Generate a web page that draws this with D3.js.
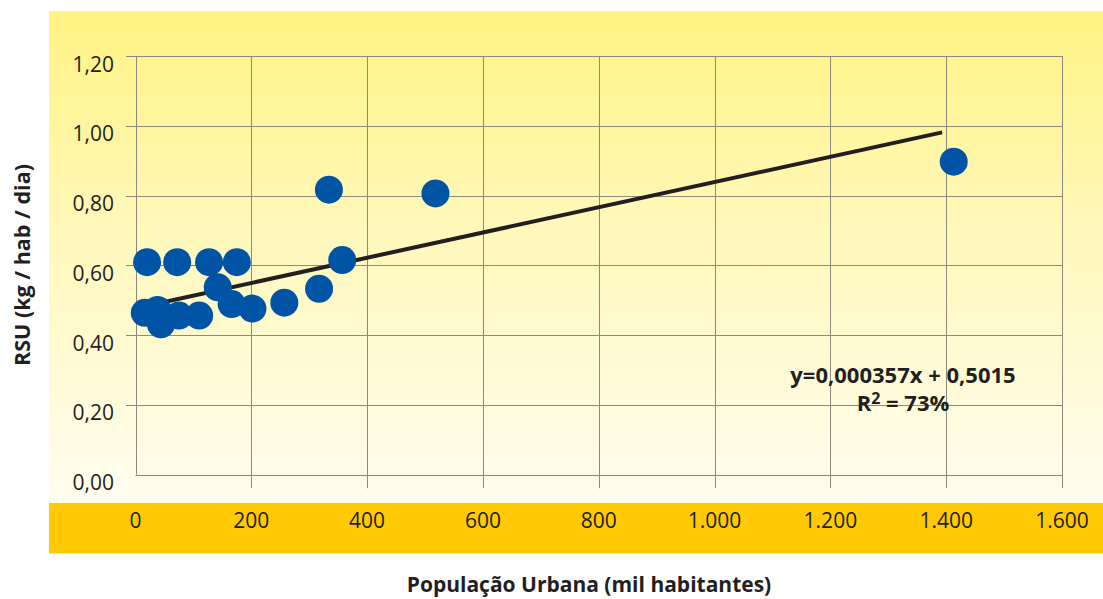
<!DOCTYPE html>
<html>
<head>
<meta charset="utf-8">
<script src="https://cdn.jsdelivr.net/npm/d3@7/dist/d3.min.js"></script>
<style>
html,body{margin:0;padding:0;background:#fff;}
svg{display:block;}
text{font-family:"Open Sans","Noto Sans",sans-serif;fill:#231f20;}
</style>
</head>
<body>
<svg id="chart" width="1103" height="599"></svg>
<script>
// Data
const popUrbana = [20, 72, 127, 175, 357, 142, 166, 202, 257, 317, 16, 38, 75, 110, 44, 334, 518, 1413];
const rsu       = [0.609, 0.609, 0.609, 0.609, 0.615, 0.537, 0.489, 0.476, 0.493, 0.533, 0.464, 0.472, 0.456, 0.456, 0.431, 0.817, 0.806, 0.897];
const trendX = [30, 1393];
const trendY = [0.488, 0.981];
const xTicks = [0, 200, 400, 600, 800, 1000, 1200, 1400, 1600];
const xTickLabels = ["0", "200", "400", "600", "800", "1.000", "1.200", "1.400", "1.600"];
const yTicks = [0, 0.2, 0.4, 0.6, 0.8, 1.0, 1.2];
const yTickLabels = ["0,00", "0,20", "0,40", "0,60", "0,80", "1,00", "1,20"];
const equationLine1 = "y=0,000357x + 0,5015";
const xTitle = "População Urbana (mil habitantes)";
const yTitle = "RSU (kg / hab / dia)";

const svg = d3.select("#chart");
const x = d3.scaleLinear().domain([0, 1600]).range([135.5, 1062]);
const y = d3.scaleLinear().domain([0, 1.2]).range([474.7, 56]);

// Background gradient panel
const defs = svg.append("defs");
const grad = defs.append("linearGradient").attr("id", "bg").attr("x1", 0).attr("y1", 0).attr("x2", 0).attr("y2", 1);
grad.append("stop").attr("offset", "0%").attr("stop-color", "#fff383");
grad.append("stop").attr("offset", "45%").attr("stop-color", "#fff8bb");
grad.append("stop").attr("offset", "100%").attr("stop-color", "#fffdf0");
svg.append("rect").attr("x", 49).attr("y", 11).attr("width", 1103 - 49).attr("height", 493).attr("fill", "url(#bg)");
svg.append("rect").attr("x", 49).attr("y", 503).attr("width", 1103 - 49).attr("height", 50.5).attr("fill", "#ffca05");

// Grid
const grid = svg.append("g").attr("stroke", "#8c8a7c").attr("stroke-width", 1).attr("fill", "none");
grid.selectAll("line.h").data(yTicks).join("line")
  .attr("class", "h")
  .attr("x1", d => d === 0 ? x(0) : x(0) - 9.5)
  .attr("x2", x(1600))
  .attr("y1", d => Math.round(y(d)) + 0.5)
  .attr("y2", d => Math.round(y(d)) + 0.5);
grid.selectAll("line.v").data(xTicks).join("line")
  .attr("class", "v")
  .attr("x1", d => Math.round(x(d)) + 0.5)
  .attr("x2", d => Math.round(x(d)) + 0.5)
  .attr("y1", y(1.2))
  .attr("y2", d => d === 0 ? y(0) : y(0) + 13.5);

// Y tick labels
svg.append("g").selectAll("text").data(yTicks).join("text")
  .attr("x", 114)
  .attr("y", d => y(d) + 15.5)
  .attr("text-anchor", "end")
  .attr("font-size", 21)
  .text((d, i) => yTickLabels[i]);

// X tick labels
svg.append("g").selectAll("text").data(xTicks).join("text")
  .attr("x", d => x(d))
  .attr("y", 527.5)
  .attr("text-anchor", "middle")
  .attr("font-size", 21)
  .text((d, i) => xTickLabels[i]);

// Trend line
svg.append("line")
  .attr("x1", x(trendX[0])).attr("y1", y(trendY[0]))
  .attr("x2", x(trendX[1])).attr("y2", y(trendY[1]))
  .attr("stroke", "#231f20").attr("stroke-width", 4);

// Points
svg.append("g").selectAll("circle").data(popUrbana).join("circle")
  .attr("cx", d => x(d))
  .attr("cy", (d, i) => y(rsu[i]))
  .attr("r", 14)
  .attr("fill", "#0054a6");

// Equation
svg.append("text").attr("x", 903).attr("y", 383).attr("text-anchor", "middle")
  .attr("font-size", 22).attr("font-weight", "bold").text(equationLine1);
const r2 = svg.append("text").attr("x", 903).attr("y", 411).attr("text-anchor", "middle")
  .attr("font-size", 22).attr("font-weight", "bold");
r2.append("tspan").text("R");
r2.append("tspan").attr("dy", -7).attr("font-size", 16).text("2");
r2.append("tspan").attr("dy", 7).text(" = 73%");

// Axis titles
svg.append("text").attr("x", 589).attr("y", 592).attr("text-anchor", "middle")
  .attr("font-size", 21).attr("font-weight", "bold").text(xTitle);
svg.append("text").attr("transform", "translate(30,265) rotate(-90)").attr("text-anchor", "middle")
  .attr("font-size", 21.5).attr("font-weight", "bold").text(yTitle);
</script>
</body>
</html>
